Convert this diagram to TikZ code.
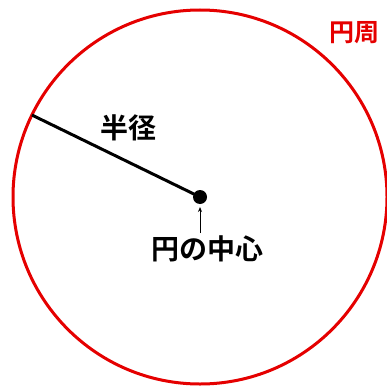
\documentclass[tikz,border=0pt]{standalone}
\usepackage{fontspec}
\newfontfamily\cjk{Noto Sans CJK JP}[BoldFont={Noto Sans CJK JP Bold}]
\usetikzlibrary{arrows.meta}
\usetikzlibrary{calc}

\begin{document}
\begin{tikzpicture}[x=1pt, y=-1pt, every node/.style={font=\cjk\bfseries\fontsize{28}{30}\selectfont, inner sep=0pt}]

    \useasboundingbox (0,0) rectangle (387,385);

    \coordinate (O) at (200,197);
    \draw[red!90!black, line width=3pt] (O) circle (187);

    \coordinate (P) at ($(O)+(206:187)$);
    \draw[line width=3pt] (P) -- (O);
    \fill (O) circle (7);

    \node (center) at (207,249) {円の中心};
    \coordinate (tail) at (200,233);
    \coordinate (tip) at (200,207);
    \draw[-{Stealth[length=5pt, width=4pt]}, line width=0.9pt] (tail) -- (tip);

    \node (radius) at (128,128) {半径};
    \node[text=red!90!black, font=\cjk\bfseries\fontsize{25}{27}\selectfont] (circum) at (354,33) {円周};

\end{tikzpicture}
\end{document}
